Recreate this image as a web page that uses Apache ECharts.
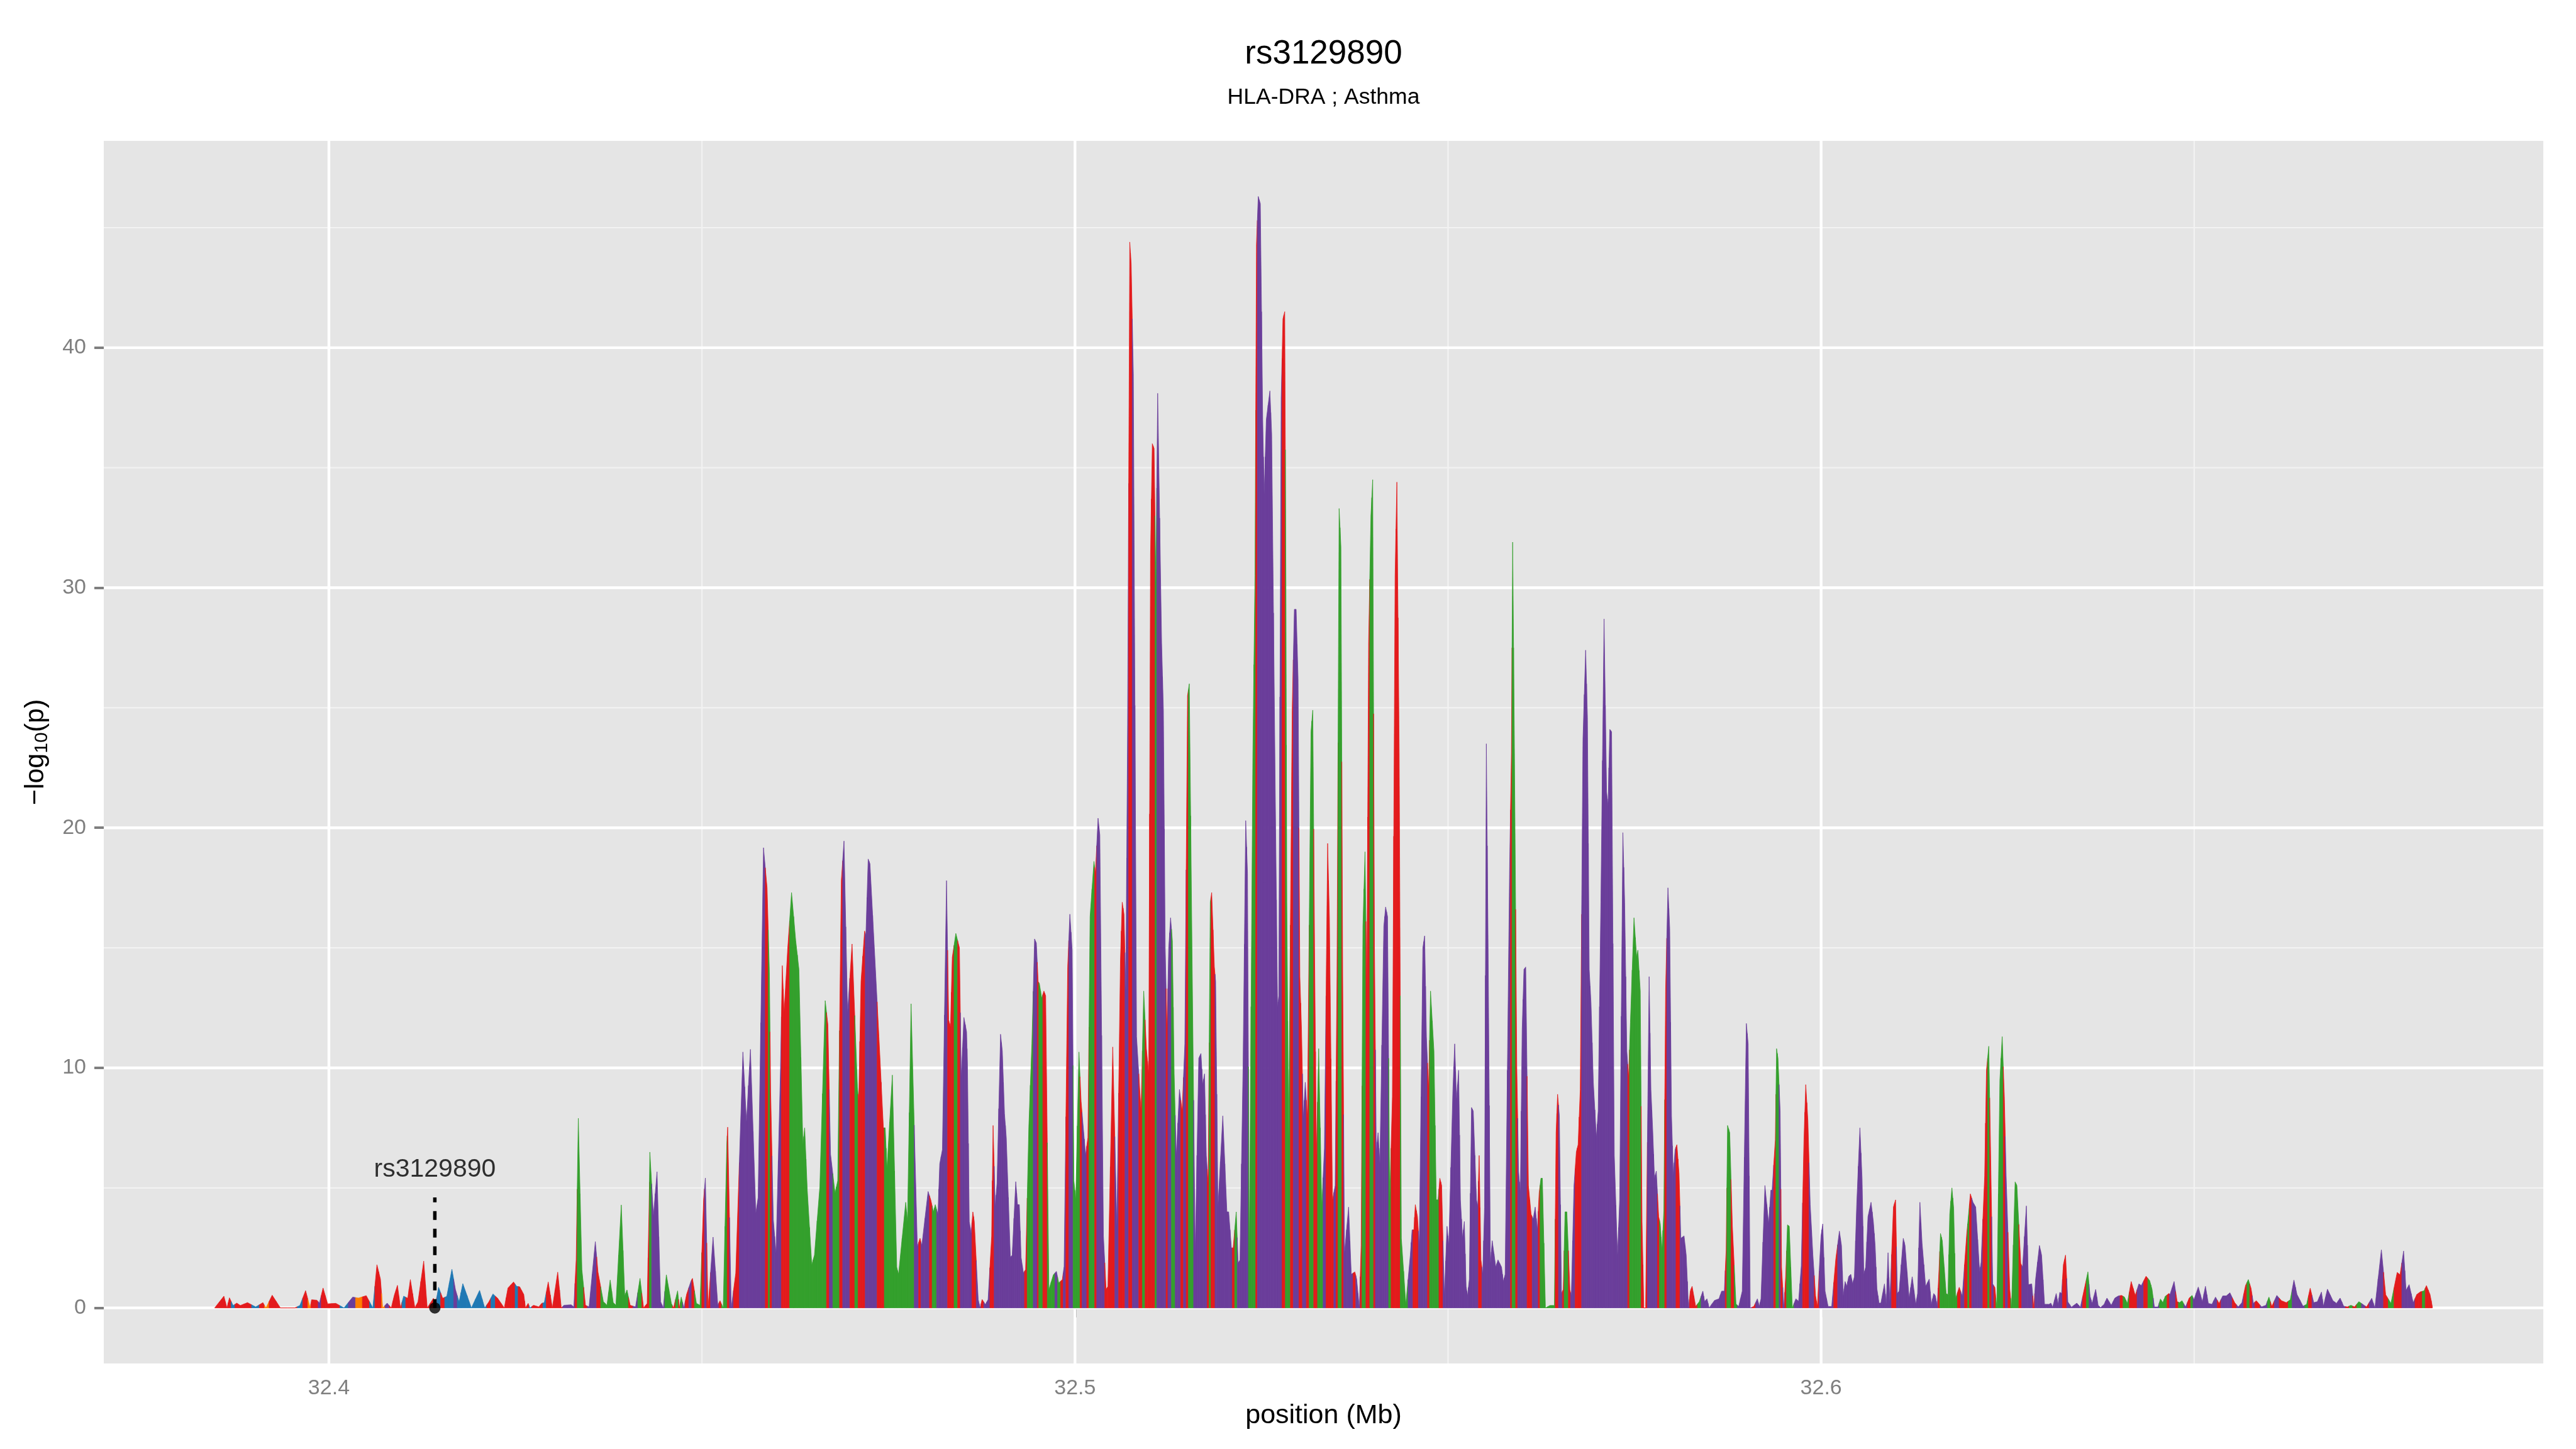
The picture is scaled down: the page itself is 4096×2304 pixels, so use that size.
<!DOCTYPE html>
<html lang="en">
<head>
<meta charset="UTF-8">
<title>rs3129890</title>
<script src="https://cdn.jsdelivr.net/npm/echarts@6/dist/echarts.min.js"></script>
<style>
  html, body { margin: 0; padding: 0; background: #fff; }
  #main { width: 4096px; height: 2304px; }
</style>
</head>
<body>
<div id="main"></div>
<script type="text/javascript">

// SNP position (kb), -log10(p) and LD group
var snpPosKb = [
  32384.69, 32385.93, 32386.34, 32386.67, 32387.16, 32387.66, 32388.13, 32389.09, 32390.19, 32391.16,
  32391.57, 32392.40, 32393.50, 32395.42, 32396.11, 32396.88, 32397.49, 32397.68, 32398.40, 32398.73,
  32399.22, 32399.83, 32400.93, 32402.03, 32403.19, 32403.96, 32405.01, 32405.89, 32406.44, 32406.91,
  32407.21, 32407.81, 32408.36, 32408.78, 32409.19, 32409.60, 32410.02, 32410.57, 32410.92, 32411.53,
  32411.94, 32412.71, 32413.18, 32414.01, 32414.20, 32414.70, 32415.25, 32415.80, 32416.49, 32416.96,
  32417.45, 32417.95, 32419.10, 32420.20, 32420.89, 32421.44, 32421.99, 32422.62, 32423.51, 32424.00,
  32424.75, 32425.16, 32425.57,
  32426.12, 32426.35, 32426.71, 32426.95, 32427.43, 32428.15, 32428.51, 32428.87, 32429.40, 32429.95,
  32430.67, 32431.15, 32431.51, 32432.47, 32432.83, 32433.14, 32433.43, 32433.91, 32434.39, 32434.87,
  32435.71, 32436.07, 32436.79, 32437.27, 32437.70, 32438.11, 32438.47, 32439.19, 32439.66, 32439.95,
  32440.38, 32441.10, 32441.70, 32442.18, 32442.66, 32442.90, 32443.02, 32443.50, 32443.98, 32444.46,
  32444.82, 32445.23, 32445.90, 32446.19, 32446.74, 32446.98, 32447.22, 32447.58, 32447.94, 32448.54,
  32448.73, 32449.26, 32449.74, 32450.22, 32450.46, 32450.82, 32451.49, 32452.13, 32452.42, 32452.85,
  32453.33, 32453.45, 32453.93, 32454.53,
  32455.49, 32455.97, 32456.50, 32457.22, 32457.53, 32458.25, 32458.73, 32459.04, 32459.21, 32459.57,
  32459.93, 32460.53, 32460.77, 32461.01, 32461.49, 32462.01, 32462.57, 32463.00, 32463.53, 32463.77,
  32464.12, 32464.72, 32465.08, 32465.80, 32466.52, 32466.88, 32467.24, 32467.84, 32468.20, 32468.68,
  32469.04, 32469.52, 32470.12, 32470.84, 32471.01, 32471.32, 32471.80, 32471.97, 32472.28, 32472.52,
  32473.24, 32473.72, 32474.32, 32474.56, 32474.80, 32475.52, 32476.11, 32476.35, 32477.31, 32477.55,
  32478.03, 32478.87, 32479.23, 32479.47, 32480.31, 32480.67, 32481.03, 32481.27, 32481.63, 32481.87,
  32482.23, 32482.78, 32483.07, 32483.31, 32483.55, 32484.03, 32484.51, 32484.75, 32485.11, 32485.47,
  32485.59, 32485.83, 32486.07, 32486.31, 32486.50, 32487.03, 32487.27, 32487.55, 32487.99, 32488.35,
  32488.83, 32489.02, 32489.31, 32489.55, 32490.02, 32490.26, 32490.55, 32490.79, 32491.34, 32491.58,
  32492.06, 32492.30, 32492.54, 32492.78, 32493.09, 32493.38, 32493.81, 32494.22, 32494.58, 32494.82,
  32495.06, 32495.23, 32495.54, 32495.83, 32496.07, 32496.50, 32497.10, 32497.51, 32497.82, 32498.30,
  32498.54, 32499.02, 32499.31, 32499.62, 32499.86, 32500.10, 32500.53, 32500.82, 32501.06, 32501.42,
  32501.73, 32502.02, 32502.54, 32502.73, 32503.09, 32503.33, 32503.81, 32504.17, 32504.41, 32505.06,
  32505.61, 32506.09, 32506.33, 32506.57, 32506.81,
  32507.05, 32507.34, 32507.53, 32507.82, 32508.25, 32508.85, 32509.21, 32509.57, 32509.88, 32510.12,
  32510.36, 32510.60, 32510.84, 32511.08, 32511.61, 32511.85, 32512.09, 32512.33, 32512.56, 32512.81,
  32513.05, 32513.29, 32513.57, 32514.00, 32514.36, 32514.72, 32515.08, 32515.32, 32515.68, 32516.11,
  32516.59, 32516.88, 32517.12, 32517.36, 32517.60, 32517.84, 32518.13, 32518.32, 32518.68, 32518.85,
  32519.16, 32519.81, 32520.36, 32520.60, 32520.96, 32521.20, 32521.61, 32521.87, 32522.11, 32522.52,
  32522.88, 32523.12, 32523.36, 32523.84, 32524.12, 32524.32, 32524.56, 32524.84, 32525.16, 32525.35,
  32525.64, 32526.12, 32526.36, 32526.84, 32527.15, 32527.31, 32527.63, 32527.87, 32528.11, 32528.27,
  32528.39, 32528.63, 32529.11, 32529.40, 32529.64, 32529.90, 32530.14, 32530.36, 32530.60, 32530.86,
  32531.15, 32531.63, 32531.87, 32532.11, 32532.35, 32532.66, 32533.07, 32533.43, 32533.86, 32534.10,
  32534.51, 32534.87, 32535.11, 32535.40, 32535.64, 32535.88, 32536.12, 32536.67, 32537.03, 32537.51,
  32537.75, 32538.11, 32538.35, 32538.59, 32538.87, 32539.11, 32539.35, 32539.66, 32539.90, 32540.14,
  32540.38, 32540.62, 32540.86, 32541.39, 32541.63, 32541.89, 32542.18, 32542.54, 32542.90, 32543.14,
  32543.45, 32543.74, 32544.34, 32544.94, 32545.18, 32545.42, 32545.61, 32545.90, 32546.14, 32546.62,
  32546.86, 32547.10, 32547.39, 32547.65, 32548.11, 32548.42, 32548.66, 32548.90, 32549.14, 32549.50,
  32549.86, 32550.10,
  32550.65, 32550.89, 32551.13, 32551.42, 32551.66, 32551.94, 32552.18, 32552.42, 32552.61, 32552.85,
  32553.14, 32553.38, 32553.81, 32553.98, 32554.17, 32554.41, 32554.65, 32554.89, 32555.13, 32555.37,
  32555.68, 32555.92, 32556.40, 32556.69, 32557.17, 32557.41, 32557.65, 32558.25, 32558.49, 32558.66,
  32558.90, 32559.21, 32559.45, 32559.69, 32559.93, 32560.17, 32560.41, 32560.77, 32561.13, 32561.41,
  32561.68, 32561.97, 32562.21, 32562.45, 32562.64, 32563.05, 32563.65, 32564.25, 32564.48, 32564.68,
  32564.92, 32565.20, 32565.44, 32565.68, 32565.92, 32566.33, 32566.52, 32566.88, 32567.19, 32567.43,
  32567.72, 32568.08, 32568.44, 32568.68, 32568.92, 32569.16, 32569.47, 32569.88, 32570.12, 32570.48,
  32570.91, 32571.25, 32571.44, 32571.68, 32571.92, 32572.28, 32572.71, 32573.00, 32573.43, 32573.67,
  32573.96, 32574.20, 32574.44, 32574.92, 32575.28, 32575.44, 32575.76, 32576.00, 32576.24, 32576.48,
  32576.95,
  32577.19, 32577.43, 32577.67, 32577.91, 32578.23, 32578.44, 32578.68, 32578.92, 32579.16, 32579.47,
  32579.71, 32579.95, 32580.19, 32580.43, 32580.67, 32580.96, 32581.20, 32581.63, 32581.92, 32582.23,
  32582.47, 32582.71, 32583.19, 32583.67, 32584.15, 32584.39, 32584.70, 32584.99, 32585.71, 32586.31,
  32586.67, 32587.03, 32587.27, 32587.46, 32587.75, 32588.11, 32588.59, 32588.95, 32589.43, 32589.98,
  32590.22, 32590.50, 32590.98, 32591.46, 32591.70, 32591.94, 32592.47, 32592.97, 32593.26, 32593.43,
  32593.86, 32594.03, 32594.22, 32594.51, 32594.70, 32595.01, 32595.25, 32595.49, 32595.73, 32596.14,
  32596.62, 32596.98, 32597.34, 32597.70, 32597.94, 32598.23, 32598.54, 32598.90, 32599.26, 32599.50,
  32599.98, 32600.22, 32600.53, 32600.94, 32601.42, 32601.97, 32602.45, 32602.73, 32602.97, 32603.21,
  32603.45, 32603.69, 32603.98, 32604.22, 32604.46, 32604.77, 32605.20, 32605.49, 32605.73, 32605.97,
  32606.28, 32606.69, 32607.00, 32607.24, 32607.48, 32607.77,
  32608.01, 32608.49, 32608.73, 32608.97, 32609.21, 32609.69, 32609.98, 32610.22, 32610.46, 32611.01,
  32611.25, 32611.80, 32612.21, 32612.69, 32612.93, 32613.24, 32613.53, 32614.01, 32614.49, 32614.77,
  32615.09, 32615.32, 32615.56, 32615.80, 32616.00, 32616.24, 32616.76, 32617.00, 32617.24, 32617.53,
  32617.77, 32618.03, 32618.51, 32618.92, 32619.52, 32619.76, 32620.00, 32620.36, 32620.72, 32621.25,
  32621.44, 32621.92, 32622.16, 32622.47, 32622.71, 32623.00, 32623.29, 32623.55, 32623.96, 32624.27,
  32624.56, 32624.80, 32625.28, 32625.52, 32626.00, 32626.24, 32626.76, 32627.00, 32627.51, 32627.79,
  32628.23, 32628.51, 32628.75, 32629.26, 32629.55, 32629.95, 32630.19, 32630.55, 32630.79, 32631.03,
  32631.51, 32631.75, 32631.99, 32632.23, 32632.47, 32632.76, 32633.07, 32633.55, 32634.27, 32634.75,
  32635.35, 32635.76,
  32636.05, 32636.32, 32636.80, 32637.13, 32637.45, 32637.93, 32638.31, 32638.89, 32639.37, 32639.85,
  32640.27, 32640.66, 32641.04, 32641.56, 32642.10, 32642.59, 32642.91, 32643.55, 32644.03, 32644.35,
  32644.67, 32645.15, 32645.48, 32645.80, 32646.12, 32646.60, 32646.76, 32647.31, 32647.72, 32648.05,
  32648.37, 32648.85, 32649.33, 32649.72, 32649.97, 32650.55, 32651.10, 32651.51, 32651.90, 32652.38,
  32652.86, 32653.34, 32653.83, 32654.31, 32654.79, 32655.43, 32655.91, 32656.40, 32656.88, 32657.26,
  32657.62, 32657.94, 32658.32, 32658.64, 32659.03, 32659.61, 32660.02, 32660.41, 32661.08, 32661.70,
  32662.34, 32662.88, 32663.37, 32663.78, 32664.59, 32665.07, 32665.55, 32666.03, 32666.51, 32667.06,
  32667.32, 32667.86, 32668.60, 32669.08, 32669.56, 32670.04, 32670.53, 32671.01, 32671.49, 32672.07,
  32672.78, 32673.10, 32673.80, 32674.22, 32675.09, 32675.67, 32676.37, 32677.21, 32677.59, 32678.07,
  32678.40, 32678.81, 32679.36, 32679.84, 32680.32, 32680.81, 32681.13, 32681.61, 32681.93
];

var snpLogP = [
  0, 0.49, 0, 0.42, 0.1, 0.2, 0.1, 0.22, 0.04, 0.22,
  0, 0.53, 0, 0, 0.1, 0.72, 0, 0.34, 0.32, 0.2,
  0.83, 0.17, 0.19, 0, 0.45, 0.41, 0.51, 0, 1.8, 1.2,
  0, 0.2, 0, 0.54, 0.94, 0, 0.49, 0.4, 1.18, 0,
  0.25, 1.95, 0, 0.4, 0, 0.86, 0.4, 0.48, 1.61, 0.77,
  0.25, 1.01, 0, 0.73, 0, 0.25, 0.58, 0.4, 0, 0.83,
  1.08, 0.9, 0.88,
  0.56, 0, 0.19, 0, 0.11, 0.04, 0.19, 0.22, 1.08, 0,
  1.49, 0, 0.11, 0.13, 0.04, 2.0, 7.9, 1.6, 0.11, 0.04,
  2.76, 1.49, 0.26, 0.11, 1.16, 0.22, 0.11, 4.29, 0.49, 0.75,
  0.11, 0.04, 1.23, 0, 0.19, 4.0, 6.49, 3.84, 5.67, 0.26,
  0, 1.38, 0.19, 0, 0.71, 0, 0.45, 0, 0.56, 1.12,
  1.23, 0.19, 0.11, 4.5, 5.41, 0, 2.95, 0.11, 0.3, 0,
  6.8, 7.53, 0, 1.45,
  10.66, 7.75, 10.77, 3.95, 4.6, 19.17, 17.5, 14.0, 9.0, 3.67,
  2.28, 10.0, 14.26, 12.3, 14.95, 17.3, 15.3, 14.1, 6.78, 7.5,
  4.9, 1.8, 2.2, 5.05, 12.8, 11.8, 6.4, 4.78, 5.3, 17.8,
  19.45, 12.3, 15.16, 9.2, 8.6, 13.6, 15.7, 15.5, 18.7, 18.5,
  14.2, 11.3, 7.5, 7.5, 5.8, 9.7, 1.7, 1.4, 4.4, 3.6,
  12.67, 2.56, 2.9, 2.6, 4.85, 4.5, 4.0, 4.3, 3.9, 6.0,
  6.6, 17.8, 12.0, 11.7, 14.6, 15.6, 15.0, 9.6, 12.1, 11.5,
  10.1, 3.6, 3.1, 4.0, 3.6, 0.35, 0, 0.35, 0.14, 0.35,
  3.0, 7.6, 4.2, 5.2, 11.4, 10.7, 8.1, 7.1, 2.1, 2.2,
  5.26, 4.3, 4.3, 2.1, 1.45, 1.6, 7.55, 11.0, 15.37, 15.2,
  13.6, 13.5, 12.9, 13.2, 13.0, 0.76, 1.38, 1.52, 1.04, 1.18,
  1.73, 14.2, 16.4, 14.9, 5.3, 4.5, 10.66, 8.6, 7.7, 6.37,
  7.1, 16.3, 18.6, 18.1, 20.4, 19.7, 3.0, 0.76, 0.9, 10.87,
  3.4, 14.5, 16.9, 16.4, 13.2,
  24.3, 44.4, 43.5, 38.9, 11.3, 8.2, 13.2, 10.8, 9.75, 31.4,
  36.0, 35.8, 30.2, 38.1, 27.7, 24.9, 15.0, 11.6, 15.0, 16.25,
  15.3, 9.75, 6.3, 9.1, 8.2, 11.0, 25.5, 26.0, 15.0, 2.3,
  10.4, 10.6, 9.3, 9.75, 6.35, 5.2, 16.9, 17.3, 14.2, 13.6,
  4.2, 8.0, 4.0, 4.0, 2.5, 2.5, 4.0, 1.86, 2.0, 10.0,
  20.3, 18.1, 2.0, 23.1, 30.5, 44.3, 46.3, 46.0, 37.0, 33.9,
  37.0, 38.2, 36.4, 21.5, 12.5, 13.0, 37.9, 41.2, 41.5, 30.0,
  16.9, 7.0, 24.9, 29.1, 29.1, 26.2, 13.8, 11.6, 7.9, 9.4,
  7.9, 24.0, 24.9, 15.0, 6.35, 10.8, 4.2, 6.65, 19.35, 16.25,
  4.5, 5.1, 13.8, 33.3, 31.7, 13.8, 2.3, 4.2, 1.4, 1.5,
  1.2, 0, 2.6, 15.9, 19.0, 13.2, 27.7, 33.0, 34.5, 15.0,
  6.5, 7.3, 6.0, 15.9, 16.7, 16.3, 4.5, 8.8, 30.5, 34.4,
  23.1, 2.9, 0.15, 2.2, 3.25, 3.25, 4.3, 3.8, 2.6, 15.0,
  15.5, 11.3, 9.1, 13.2, 10.7, 4.5, 4.5, 5.4, 5.1, 0.5,
  3.4, 2.6,
  9.1, 11.0, 8.7, 9.9, 4.5, 2.9, 3.6, 0.9, 0.5, 1.2,
  8.35, 8.2, 4.5, 4.2, 6.35, 2.0, 1.4, 4.2, 23.5, 15.0,
  1.86, 2.8, 1.7, 2.0, 1.7, 1.1, 1.4, 18.4, 23.1, 31.9,
  23.1, 10.1, 5.7, 4.8, 11.6, 14.1, 14.2, 5.1, 3.9, 3.7,
  4.2, 3.25, 4.8, 5.4, 5.4, 0, 0.1, 0.1, 7.3, 8.9,
  8.0, 0.6, 0.77, 4.0, 4.0, 0.77, 0.5, 5.1, 6.5, 6.8,
  9.1, 23.7, 27.4, 24.6, 14.1, 12.7, 9.4, 7.1, 8.2, 16.9,
  28.7, 21.5, 20.9, 24.1, 24.0, 6.35, 2.2, 4.5, 19.8, 16.9,
  10.7, 9.6, 11.9, 16.25, 14.6, 14.9, 13.2, 3.6, 0, 0,
  13.8,
  9.1, 7.4, 5.4, 5.7, 3.8, 3.5, 2.4, 4.05, 13.3, 17.5,
  15.8, 8.0, 5.5, 6.6, 6.8, 5.6, 2.9, 3.0, 2.2, 0,
  0.7, 0.9, 0.06, 0.26, 0.7, 0.26, 0.38, 0, 0.31, 0.38,
  0.7, 0.7, 2.4, 7.6, 7.3, 3.4, 0.17, 0.06, 0.7, 11.85,
  11.0, 0, 0.06, 0.38, 0.06, 0.38, 5.1, 3.5, 4.9, 4.9,
  7.0, 10.8, 10.4, 8.2, 1.7, 0, 1.3, 3.46, 3.4, 0,
  0.38, 0.27, 1.75, 7.0, 9.3, 7.8, 4.3, 2.2, 0.5, 0.06,
  3.0, 3.5, 0.7, 0.06, 0.06, 2.05, 3.2, 2.6, 0.5, 1.1,
  0.9, 1.3, 1.4, 1.0, 1.3, 4.3, 7.5, 5.4, 1.4, 1.7,
  3.8, 4.4, 3.6, 2.6, 0.8, 0.2,
  0.2, 1.0, 0.15, 2.3, 0.25, 4.2, 4.5, 0.6, 0.7, 2.9,
  2.6, 0.4, 1.3, 0.15, 0.6, 4.4, 2.7, 0.9, 1.2, 0.15,
  0.6, 0.5, 0.05, 1.6, 3.1, 2.8, 0.6, 0.55, 3.9, 5.0,
  4.15, 0.4, 0.86, 0.5, 3.1, 3.9, 4.75, 4.4, 4.2, 1.5,
  1.9, 5.5, 9.9, 10.9, 6.6, 1.0, 0.85, 0, 9.5, 11.3,
  8.8, 5.5, 0.8, 0, 5.25, 5.1, 1.85, 1.7, 4.25, 0.97,
  1.0, 0, 1.2, 2.6, 2.2, 0.15, 0.15, 0.15, 0.2, 0.03,
  0.6, 0.15, 0.65, 0.6, 1.8, 2.2, 0.25, 0.03, 0.2, 0.03,
  0.9, 1.5,
  0.48, 0.19, 0.77, 0.11, 0.01, 0.15, 0.41, 0.11, 0.41, 0.5,
  0.52, 0.45, 0.19, 1.1, 0.52, 1.0, 0.93, 1.32, 1.14, 0.78,
  0.04, 0.04, 0.37, 0.22, 0.48, 0.6, 0.56, 1.1, 0.26, 0.22,
  0.3, 0.04, 0.41, 0.52, 0.34, 0.87, 0.26, 0.9, 0.19, 0.15,
  0.45, 0.19, 0.5, 0.5, 0.63, 0.22, 0.04, 0.22, 0.93, 1.18,
  0.82, 0.19, 0.3, 0.19, 0.04, 0.11, 0.45, 0.07, 0.52, 0.3,
  0.22, 0.34, 1.16, 0.56, 0.07, 0.15, 0.82, 0.22, 0.26, 0.66,
  0.07, 0.78, 0.3, 0.19, 0.41, 0.07, 0.04, 0.11, 0.04, 0.26,
  0.11, 0.04, 0.4, 0, 2.42, 0.55, 0.19, 1.48, 1.38, 2.37,
  0.73, 0.97, 0.22, 0.56, 0.67, 0.71, 0.93, 0.56, 0.04
];

// one letter per SNP: R, G, P, B, O (LD class colour)
var snpGroup = [
  'RRRRBRRRBR', 'ORRRBRORRP', 'RRRBPORBRR', 'OPRRRRBRRR', 'RRRRRBRBBP', 'BBBBBRBRRR', 'RBR',
  'RRRBRRRBRR', 'RRPPPRGGRP', 'PRGGGGGGGG', 'RPGRRRGPPP', 'PGGRGRGPRP', 'RGGRPRPPRG', 'GRPR',
  'PPPPPPRGRP', 'PPRRRGGGGG', 'GGGGGRPGGR', 'PPRGRRRPPP', 'PRRGGGGGGG', 'GPRPPRGGPP', 'PPRRRGRPPP',
  'PPPRRPPRPP', 'RRPPPPPPPP', 'PPPPPRGGPP', 'RGGRRGGPGR', 'PRPPGGGRPP', 'RGGRPPPRRR', 'PRRRP',
  'PRRPPRGRRR', 'RRGPPPPRPP', 'GGPPRPRGGP', 'PPPPPRGRRP', 'PPPPPRGPPP', 'PPGGGRPPPP',
  'PPPPPPPRRG', 'GGRPPPRRPP', 'RGGRRGGPRR', 'RPRGGRPPPR', 'PPRGGRRGGR', 'PPPPPPGRRR', 'RGGPPRRRPP', 'PPRGGGGRRP', 'PP',
  'PPPPPPPPPP', 'PPPPRRPPPP', 'PPPPPPPPRG', 'GRPPPPPRRP', 'PPRGGGGGRR', 'PPRGGRPPRR', 'RPPPPPPPPP', 'PPPPPPPPPP', 'PRGGGGGRRR', 'P',
  'PPPPRGGGRP', 'PPPPRRPPPP', 'RRRGPPPPPP', 'PPRGGRGPPP', 'PPRPPPPPPP', 'RGGPRPRGGG', 'PPPRRRPPRR', 'PPPPPRPPPP', 'PPPPPPPPPP', 'PPPPPP',
  'PPPPPRRPPP', 'PPPPPPPPPP', 'PPPRGGGGGG', 'GGRPRGRPPP', 'PRRGRPRGGG', 'RPRGGGRPPP', 'PRPPPPPPPP', 'PPPPRRPPPP', 'RG',
  'PPPPPPPPPP', 'RGGRRPPRGG', 'PPGGGRPPRG', 'GPRGPPPPPP', 'PRPPPRPPRG', 'RPRRPPGRPR', 'RGPPPGRPPP', 'PPPPPPRGRG', 'PRPPPRGRRP', 'PPPRRGRRR'
].join('').split('');

var groupColor = { R: '#E31A1C', G: '#33A02C', P: '#6A3D9A', B: '#1F78B4', O: '#FF7F00' };

// axis breaks
var xMajor = [32.4, 32.5, 32.6];
var xMinor = [32.45, 32.55, 32.65];
var yMajor = [0, 10, 20, 30, 40];
var yMinor = [5, 15, 25, 35, 45];

// highlighted SNP
var leadName = 'rs3129890';
var leadPosKb = 32414.20;
var leadLineTop = 4.6;
var leadLabelAt = 5.75;

if (snpPosKb.length !== snpLogP.length || snpPosKb.length !== snpGroup.length) {
    console.error('length mismatch', snpPosKb.length, snpLogP.length, snpGroup.length);
}

var chartDom = document.getElementById('main');
var myChart = echarts.init(chartDom);

var FONT = '"Liberation Sans", Arial, Helvetica, sans-serif';
var posMb = snpPosKb.map(function (v) { return v / 1000; });
var leadPos = leadPosKb / 1000;

// ggplot-like 5% expansion of the data range
var xMin = Math.min.apply(null, posMb), xMax = Math.max.apply(null, posMb);
var yMin = Math.min(0, Math.min.apply(null, snpLogP)), yMax = Math.max.apply(null, snpLogP);
var xLo = xMin - (xMax - xMin) * 0.05, xHi = xMax + (xMax - xMin) * 0.05;
var yLo = yMin - (yMax - yMin) * 0.05, yHi = yMax + (yMax - yMin) * 0.05;

var gridLeft = 165, gridRight = 52, gridTop = 224, gridBottom = 136;
var panelCenterX = gridLeft + (4096 - gridLeft - gridRight) / 2;

function gridLines(values, vertical, width, color) {
    return {
        type: 'custom',
        z: 1,
        silent: true,
        data: values.map(function (v) { return vertical ? [v, yLo] : [xLo, v]; }),
        renderItem: function (params, api) {
            var cs = params.coordSys;
            var p = api.coord([api.value(0), api.value(1)]);
            var shape = vertical
                ? { x1: p[0], y1: cs.y, x2: p[0], y2: cs.y + cs.height }
                : { x1: cs.x, y1: p[1], x2: cs.x + cs.width, y2: p[1] };
            return { type: 'line', shape: shape, style: { stroke: color, lineWidth: width } };
        }
    };
}

// each SNP owns the strip between the midpoints to its neighbours
function renderArea(params, api) {
    var i = params.dataIndex;
    var n = posMb.length;
    var x = posMb[i], y = snpLogP[i];
    var xl = i > 0 ? (posMb[i - 1] + x) / 2 : x;
    var yl = i > 0 ? (snpLogP[i - 1] + y) / 2 : y;
    var xr = i < n - 1 ? (x + posMb[i + 1]) / 2 : x;
    var yr = i < n - 1 ? (y + snpLogP[i + 1]) / 2 : y;
    var pts = [[xl, 0], [xl, yl], [x, y], [xr, yr], [xr, 0]].map(function (p) { return api.coord(p); });
    var c = groupColor[snpGroup[i]];
    return { type: 'polygon', shape: { points: pts }, style: { fill: c, stroke: c, lineWidth: 0.8 } };
}

var option = {
    animation: false,
    backgroundColor: '#ffffff',
    textStyle: { fontFamily: FONT },
    grid: {
        left: gridLeft, right: gridRight, top: gridTop, bottom: gridBottom,
        show: true, backgroundColor: '#E5E5E5', borderWidth: 0,
        outerBoundsMode: 'none'
    },
    graphic: [
        {
            type: 'text', x: panelCenterX, y: 86, silent: true,
            style: { text: 'rs3129890', fontSize: 53, fontFamily: FONT, fill: '#000', align: 'center', verticalAlign: 'middle' }
        },
        {
            type: 'text', x: panelCenterX, y: 155, silent: true,
            style: { text: 'HLA-DRA ; Asthma', fontSize: 35.5, fontFamily: FONT, fill: '#000', align: 'center', verticalAlign: 'middle' }
        }
    ],
    xAxis: {
        type: 'value',
        min: xLo,
        max: xHi,
        name: 'position (Mb)',
        nameLocation: 'middle',
        nameGap: 61,
        nameTextStyle: { fontSize: 43, color: '#000', fontFamily: FONT },
        axisLine: { show: false },
        axisTick: { show: true, length: 15, customValues: xMajor, lineStyle: { color: '#7F7F7F', width: 4 } },
        axisLabel: {
            customValues: xMajor, fontSize: 34, color: '#7F7F7F', margin: 23, fontFamily: FONT,
            formatter: function (v) { return v.toFixed(1); }
        },
        splitLine: { show: false }
    },
    yAxis: {
        type: 'value',
        min: yLo,
        max: yHi,
        name: '{a|\u2212log}{s|10}{a|(p)}',
        nameLocation: 'middle',
        nameRotate: 90,
        nameGap: 83,
        nameTextStyle: {
            color: '#000',
            rich: {
                a: { fontSize: 43, lineHeight: 50, fontFamily: FONT, color: '#000', verticalAlign: 'middle' },
                s: { fontSize: 30, lineHeight: 34, fontFamily: FONT, color: '#000', verticalAlign: 'bottom' }
            }
        },
        axisLine: { show: false },
        axisTick: { show: true, length: 15, customValues: yMajor, lineStyle: { color: '#7F7F7F', width: 4 } },
        axisLabel: { customValues: yMajor, fontSize: 34, color: '#7F7F7F', margin: 28, fontFamily: FONT },
        splitLine: { show: false }
    },
    series: [
        gridLines(xMinor, true, 2.2, '#F2F2F2'),
        gridLines(yMinor, false, 2.2, '#F2F2F2'),
        gridLines(xMajor, true, 4.4, '#FFFFFF'),
        gridLines(yMajor, false, 4.4, '#FFFFFF'),
        {
            type: 'custom',
            name: 'snps',
            z: 2,
            clip: true,
            data: posMb.map(function (x, i) { return [x, snpLogP[i]]; }),
            encode: { x: 0, y: 1 },
            renderItem: renderArea
        },
        {
            type: 'line',
            z: 5,
            silent: true,
            symbol: 'none',
            data: [[leadPos, 0], [leadPos, leadLineTop]],
            lineStyle: { color: '#000', width: 5.5, type: [14, 14] }
        },
        {
            type: 'scatter',
            z: 6,
            silent: true,
            symbolSize: 18,
            itemStyle: { color: '#000' },
            data: [[leadPos, 0]]
        },
        {
            type: 'scatter',
            z: 6,
            silent: true,
            symbolSize: 1,
            itemStyle: { color: 'rgba(0,0,0,0)' },
            label: {
                show: true, position: 'inside', formatter: leadName,
                fontSize: 41, color: '#000', fontFamily: FONT
            },
            data: [[leadPos, leadLabelAt]]
        }
    ]
};

option && myChart.setOption(option);
</script>
</body>
</html>
